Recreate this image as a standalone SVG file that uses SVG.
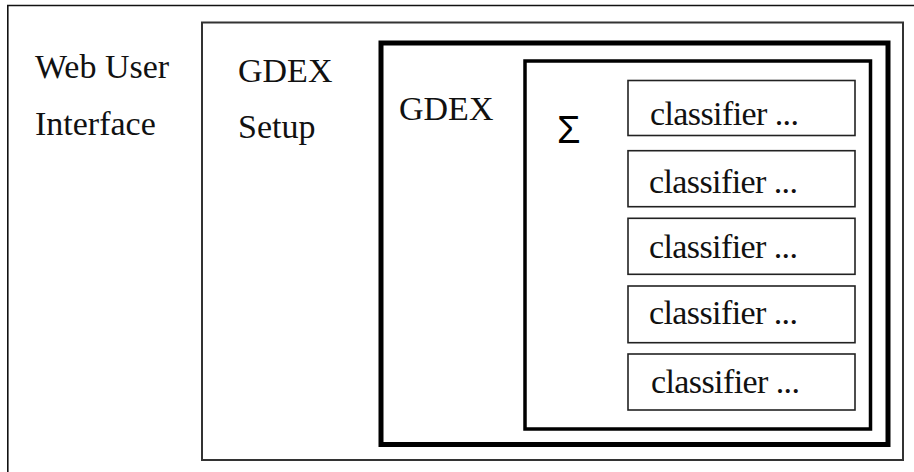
<svg xmlns="http://www.w3.org/2000/svg" width="914" height="472" viewBox="0 0 914 472">
<style>
.t{font-family:'Liberation Serif','DejaVu Serif',serif;font-size:34px;fill:#111}
.sig{font-family:'Liberation Sans','DejaVu Sans',sans-serif;font-size:38px;fill:#000}
.frame{fill:none;stroke:#111;stroke-width:1.6}
.setup{fill:none;stroke:#333;stroke-width:2}
.gdex{fill:none;stroke:#000;stroke-width:5}
.inner{fill:none;stroke:#000;stroke-width:3.5}
.cls{fill:#fff;stroke:#222;stroke-width:1.6}
</style>
<rect width="914" height="472" fill="#fff"/>
<g id="web-ui">
<path class="frame" d="M7.8 480 V5.5 H920"/>
<text class="t" font-family="Liberation Serif, serif" x="35" y="78">Web User</text>
<text class="t" font-family="Liberation Serif, serif" x="35" y="135">Interface</text>
</g>
<g id="gdex-setup">
<rect class="setup" x="202" y="22.5" width="701" height="437.5"/>
<text class="t" font-family="Liberation Serif, serif" x="238" y="82">GDEX</text>
<text class="t" font-family="Liberation Serif, serif" x="238" y="138">Setup</text>
</g>
<g id="gdex">
<rect class="gdex" x="381" y="43" width="507" height="401.5"/>
<text class="t" font-family="Liberation Serif, serif" x="399" y="120">GDEX</text>
</g>
<g id="ensemble">
<rect class="inner" x="525" y="61" width="345.5" height="368"/>
<text class="sig" x="557" y="143">Σ</text>
</g>
<g id="classifier-1">
<rect class="cls" x="628" y="80.5" width="227" height="55"/>
<text class="t" font-family="Liberation Serif, serif" x="650" y="124.5" textLength="149">classifier ...</text>
</g>
<g id="classifier-2">
<rect class="cls" x="628" y="150.7" width="227" height="56"/>
<text class="t" font-family="Liberation Serif, serif" x="649" y="192.7" textLength="149">classifier ...</text>
</g>
<g id="classifier-3">
<rect class="cls" x="628" y="218.3" width="227" height="56"/>
<text class="t" font-family="Liberation Serif, serif" x="649" y="257.7" textLength="149">classifier ...</text>
</g>
<g id="classifier-4">
<rect class="cls" x="628" y="286" width="227" height="56.7"/>
<text class="t" font-family="Liberation Serif, serif" x="649" y="324" textLength="149">classifier ...</text>
</g>
<g id="classifier-5">
<rect class="cls" x="628" y="354" width="227" height="56"/>
<text class="t" font-family="Liberation Serif, serif" x="651" y="393" textLength="149">classifier ...</text>
</g>
<g id="connectors"></g>
</svg>
